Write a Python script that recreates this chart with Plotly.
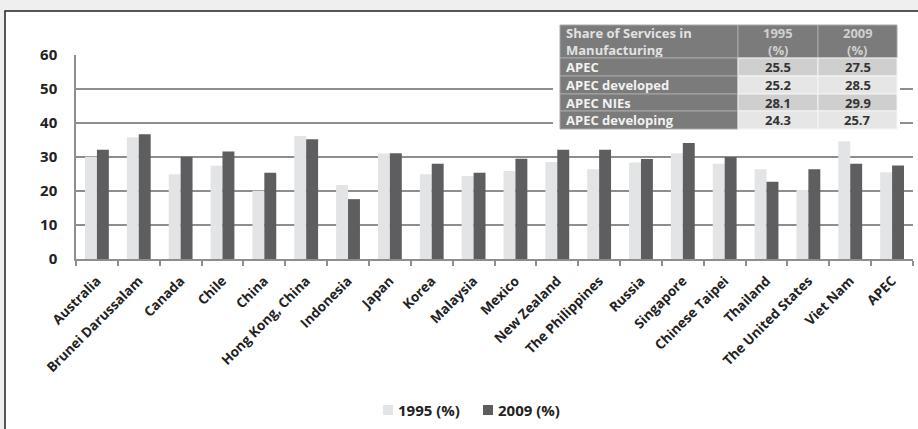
import plotly.graph_objects as go

economies = ["Australia", "Brunei Darussalam", "Canada", "Chile", "China", "Hong Kong, China",
             "Indonesia", "Japan", "Korea", "Malaysia", "Mexico", "New Zealand", "The Philippines",
             "Russia", "Singapore", "Chinese Taipei", "Thailand", "The United States", "Viet Nam", "APEC"]
share_1995 = [30.1, 35.8, 24.9, 27.4, 20.1, 36.2, 21.8, 31.0, 24.9, 24.4, 25.9, 28.5, 26.4,
              28.4, 31.1, 28.0, 26.4, 20.3, 34.6, 25.5]
share_2009 = [32.1, 36.7, 30.1, 31.6, 25.4, 35.2, 17.6, 31.1, 28.0, 25.4, 29.5, 32.1, 32.1,
              29.4, 34.1, 30.0, 22.7, 26.4, 28.0, 27.5]
series_names = ["1995 (%)", "2009 (%)"]
series_colors = ["#e3e4e6", "#5e5e60"]

table_header = [["Share of Services in", "Manufacturing"], ["1995", "(%)"], ["2009", "(%)"]]
table_groups = ["APEC", "APEC developed", "APEC NIEs", "APEC developing"]
table_1995 = ["25.5", "25.2", "28.1", "24.3"]
table_2009 = ["27.5", "28.5", "29.9", "25.7"]

W, H = 918, 429
ML, MR, MT, MB = 76, 5, 55, 170
PW = W - ML - MR
PH = H - MT - MB
FONT = "Open Sans"


def px(x):
    return (x - ML) / PW


def py(y):
    return (H - MB - y) / PH


fig = go.Figure()
for name, vals, col in zip(series_names, [share_1995, share_2009], series_colors):
    fig.add_trace(go.Bar(x=economies, y=vals, name=name,
                         marker=dict(color=col, line=dict(width=0))))

shapes = []
annotations = []
# outer white frame
shapes.append(dict(type="rect", xref="paper", yref="paper", layer="below",
                   x0=px(5), x1=px(940), y0=py(11), y1=py(450),
                   fillcolor="white", line=dict(color="#222222", width=1.5)))
# white backing behind the table
shapes.append(dict(type="rect", xref="paper", yref="paper", layer="above",
                   x0=px(553), x1=px(900), y0=py(20), y1=py(132),
                   fillcolor="white", line=dict(width=0)))

col_x = [560, 738, 818, 897]
row_y = [25, 58, 76, 94, 111, 129]
dark = "#7b7b7b"
fills_row = ["#cfcfcf", "#e6e6e6", "#cfcfcf", "#e6e6e6"]

for c in range(3):
    shapes.append(dict(type="rect", xref="paper", yref="paper", layer="above",
                       x0=px(col_x[c]), x1=px(col_x[c + 1]), y0=py(row_y[0]), y1=py(row_y[1]),
                       fillcolor=dark, line=dict(color="#a8a8a8", width=1)))
for r in range(4):
    shapes.append(dict(type="rect", xref="paper", yref="paper", layer="above",
                       x0=px(col_x[0]), x1=px(col_x[1]), y0=py(row_y[r + 1]), y1=py(row_y[r + 2]),
                       fillcolor=dark, line=dict(color="#a8a8a8", width=1)))
    for c in (1, 2):
        shapes.append(dict(type="rect", xref="paper", yref="paper", layer="above",
                           x0=px(col_x[c]), x1=px(col_x[c + 1]), y0=py(row_y[r + 1]), y1=py(row_y[r + 2]),
                           fillcolor=fills_row[r], line=dict(color="#f4f4f4", width=1)))

tf = 13
header_line_y = [33, 49]
for c in range(3):
    for li, ly in enumerate(header_line_y):
        if c == 0:
            xa, xx, colr = "left", px(565), "#e2e2e2"
        else:
            xa, xx, colr = "center", px((col_x[c] + col_x[c + 1]) / 2), "#d0d0d0"
        annotations.append(dict(xref="paper", yref="paper", x=xx, y=py(ly), xanchor=xa, yanchor="middle",
                                text="<b>" + table_header[c][li] + "</b>", showarrow=False,
                                height=15, borderpad=0,
                                font=dict(family=FONT, size=tf, color=colr)))
for r in range(4):
    yc = py((row_y[r + 1] + row_y[r + 2]) / 2)
    annotations.append(dict(xref="paper", yref="paper", x=px(565), y=yc, xanchor="left", yanchor="middle",
                            text="<b>" + table_groups[r] + "</b>", showarrow=False, height=16, borderpad=0,
                            font=dict(family=FONT, size=tf, color="#f2f2f2")))
    for c, vals in ((1, table_1995), (2, table_2009)):
        annotations.append(dict(xref="paper", yref="paper", x=px((col_x[c] + col_x[c + 1]) / 2), y=yc,
                                xanchor="center", yanchor="middle", text="<b>" + vals[r] + "</b>",
                                showarrow=False, height=16, borderpad=0,
                                font=dict(family=FONT, size=tf, color="#333333")))

# legend (drawn manually to match spacing)
leg_x = [383, 483]
for lx, name, col in zip(leg_x, series_names, series_colors):
    shapes.append(dict(type="rect", xref="paper", yref="paper", layer="above",
                       x0=px(lx), x1=px(lx + 10), y0=py(405), y1=py(415),
                       fillcolor=col, line=dict(width=0)))
    annotations.append(dict(xref="paper", yref="paper", x=px(lx + 13), y=py(410), xanchor="left",
                            yanchor="middle", text="<b>" + name + "</b>", showarrow=False,
                            font=dict(family=FONT, size=15, color="#222222")))

grid = "#8e8e8e"
fig.update_layout(
    width=W, height=H,
    margin=dict(l=ML, r=MR, t=MT, b=MB, autoexpand=False),
    paper_bgcolor="#efefef", plot_bgcolor="white",
    barmode="group", bargap=0.43, bargroupgap=0,
    font=dict(family=FONT, color="#222222"),
    shapes=shapes, annotations=annotations,
    showlegend=False,
    xaxis=dict(showline=True, linecolor=grid, linewidth=1.5, ticks="outside", tickson="boundaries",
               ticklen=5, tickcolor=grid, tickwidth=1.5, tickangle=-45, showgrid=False,
               ticklabelstandoff=7,
               tickfont=dict(family=FONT, size=13.5, color="#222222", weight="bold")),
    yaxis=dict(range=[0, 60], dtick=10, showline=True, linecolor=grid, linewidth=1.5,
               showgrid=True, gridcolor=grid, gridwidth=1.5, zeroline=False,
               ticks="outside", ticklen=14, tickcolor="rgba(0,0,0,0)",
               tickfont=dict(family=FONT, size=15, color="#222222", weight="bold")),
)

fig.write_html("out.html")
